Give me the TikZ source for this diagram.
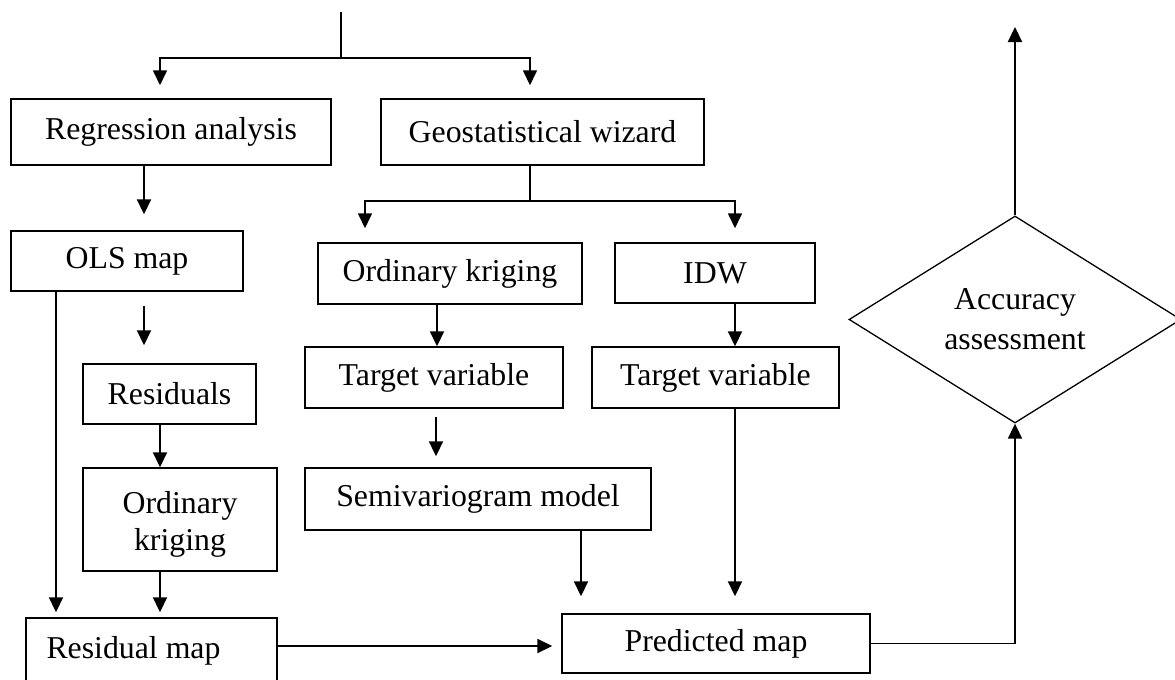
\documentclass[tikz,border=0pt]{standalone}
\usepackage{fontspec}
\setmainfont{Liberation Serif}
\usetikzlibrary{arrows.meta,calc,shapes.geometric}
\tikzset{
  box/.style={draw, line width=0.75pt, inner sep=0pt, align=center,
    font=\fontsize{15.9}{19}\selectfont},
  arr/.style={-{Triangle[length=7.5pt,width=7pt]}, line width=1.1pt},
  ln/.style={line width=0.8pt},
  dia/.style={draw, diamond, aspect=1.6, inner sep=0pt, line width=0.65pt,
    align=center, font=\fontsize{15.9}{20}\selectfont}
}
\begin{document}
\begin{tikzpicture}[x=0.5pt,y=-0.5pt]
\useasboundingbox (0,0) rectangle (1175,680);
% nodes
\node[box, minimum width=160pt, minimum height=33pt] (reg) at (171,132) {Regression analysis};
\node[box, minimum width=161.5pt, minimum height=33pt] (geo) at (542.5,132) {Geostatistical wizard};
\node[box, minimum width=116pt, minimum height=30pt] (ols) at (127,261) {OLS map};
\node[box, minimum width=132pt, minimum height=30.5pt] (ok) at (450,273.5) {Ordinary kriging};
\node[box, minimum width=100pt, minimum height=30pt] (idw) at (715,273) {IDW};
\node[box, minimum width=86.5pt, minimum height=30pt] (res) at (169.5,394) {Residuals};
\node[box, minimum width=129pt, minimum height=30.5pt] (tv1) at (434,377.5) {Target variable};
\node[box, minimum width=123.5pt, minimum height=30.5pt] (tv2) at (715.5,377.5) {Target variable};
\node[box, minimum width=97pt, minimum height=51.5pt, font=\fontsize{15.9}{18.5}\selectfont] (ok2) at (180,519.5) {\rule{0pt}{16pt}Ordinary\\kriging};
\node[box, minimum width=173pt, minimum height=31pt] (semi) at (478,499) {Semivariogram model};
\node[box, minimum width=125.5pt, minimum height=33pt] (resmap) at (151.5,651) {Residual map\hspace*{18pt}};
\node[box, minimum width=154pt, minimum height=29.5pt] (pred) at (716,643.5) {Predicted map};
\node[dia, minimum width=166pt, minimum height=103.5pt] (acc) at (1015,319.5) {Accuracy\\assessment};
% coordinates
\coordinate (top) at (341,12);
\coordinate (split) at (341,58);
\coordinate (gsplit) at (530,201);
\coordinate (out) at (1015,27);
% connectors
\draw[ln] (top) -- (split);
\draw[arr, line width=0.85pt] (split) -| ($(reg.north)+(-11,-13)$);
\draw[arr, line width=0.85pt] (split) -| ($(geo.north)+(-12.5,-13)$);
\draw[arr] ($(reg.south)+(-27,0)$) -- ($(ols.north)+(17,-16)$);
\draw[ln] (geo.south -| gsplit) -- (gsplit);
\draw[arr, line width=0.85pt] (gsplit) -| ($(ok.north)+(-85,-14)$);
\draw[arr, line width=0.85pt] (gsplit) -| ($(idw.north)+(20,-14)$);
\draw[arr] ($(ok.south)+(-13,0)$) coordinate (a) -- (a |- tv1.north);
\draw[arr] ($(idw.south)+(20,0)$) coordinate (b) -- (b |- tv2.north);
\draw[arr] ($(ols.south)+(17,14)$) -- ($(res.north)+(-25.5,-18)$);
\draw[arr] ($(ols.south)+(-71,0)$) coordinate (c) -- ($(c |- resmap.north)+(0,-5)$);
\draw[arr] ($(res.south)+(-9.5,0)$) coordinate (d) -- (d |- ok2.north);
\draw[arr] ($(ok2.south)+(-20,0)$) coordinate (e) -- ($(e |- resmap.north)+(0,-5)$);
\draw[arr] ($(tv1.south)+(2,8)$) coordinate (f) -- ($(f |- semi.north)+(0,-11)$);
\draw[arr] ($(semi.south)+(103,0)$) coordinate (g) -- ($(g |- pred.north)+(0,-17)$);
\draw[arr] ($(tv2.south)+(19.5,0)$) coordinate (h) -- ($(h |- pred.north)+(0,-17)$);
\draw[arr] ($(resmap.east)+(0,-5)$) coordinate (i) -- ($(i -| pred.west)+(-9,0)$);
\draw[arr, line width=0.85pt] (pred.east) -| (acc.south);
\draw[arr] (acc.north) -- (out);
\end{tikzpicture}
\end{document}
